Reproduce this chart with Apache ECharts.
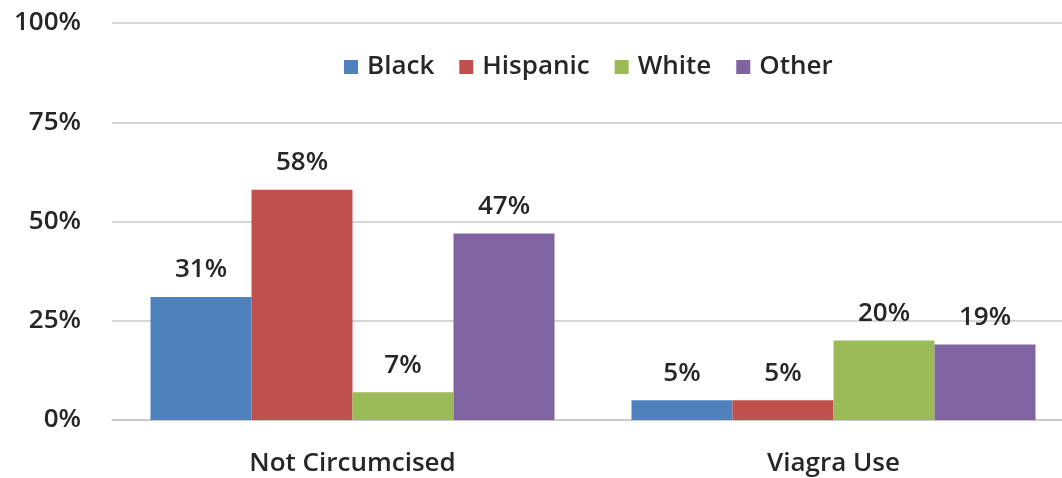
<!DOCTYPE html>
<html>
<head>
<meta charset="utf-8">
<script src="https://cdn.jsdelivr.net/npm/echarts@6/dist/echarts.min.js"></script>
<style>html,body{margin:0;padding:0;background:#fff;overflow:hidden;width:1062px;height:478px}#c{width:1080px;height:478px}</style>
</head>
<body>
<div id="c"></div>
<script>
var categories = ['Not Circumcised', 'Viagra Use'];
var seriesNames = ['Black', 'Hispanic', 'White', 'Other'];
var black = [31, 5];
var hispanic = [58, 5];
var white = [7, 20];
var other = [47, 19];
var colors = ['#4F81BD', '#C0504D', '#9BBB59', '#8064A2'];
var values = [black, hispanic, white, other];

var font = 'Open Sans';
var txt = '#262626';
var chart = echarts.init(document.getElementById('c'));
chart.setOption({
  animation: false,
  textStyle: { fontFamily: font },
  legend: {
    top: 49,
    left: 339,
    data: seriesNames,
    icon: 'rect',
    itemWidth: 14,
    itemHeight: 14,
    itemGap: 25,
    textStyle: { fontFamily: font, fontSize: 26, fontWeight: 600, color: txt, padding: [0, 0, 0, 4] }
  },
  grid: { left: 112, width: 962, top: 23, bottom: 58, containLabel: false },
  xAxis: {
    type: 'category',
    data: categories,
    axisLine: { lineStyle: { color: '#C8C8C8', width: 1.5 } },
    axisTick: { show: false },
    axisLabel: { fontFamily: font, fontSize: 26, fontWeight: 600, color: txt, margin: 31 }
  },
  yAxis: {
    type: 'value',
    min: 0, max: 100, interval: 25,
    axisLine: { show: false },
    axisTick: { show: false },
    splitLine: { lineStyle: { color: '#C8C8C8', width: 1.5 } },
    axisLabel: { fontFamily: font, fontSize: 26, fontWeight: 600, color: txt, margin: 31, formatter: '{value}%' }
  },
  series: seriesNames.map(function (n, i) {
    return {
      name: n,
      type: 'bar',
      data: values[i],
      barWidth: 101,
      barGap: '0%',
      itemStyle: { color: colors[i] },
      label: {
        show: true, position: 'top', distance: 14,
        fontFamily: font, fontSize: 26, fontWeight: 600, color: txt,
        formatter: '{c}%'
      }
    };
  })
});
</script>
</body>
</html>
